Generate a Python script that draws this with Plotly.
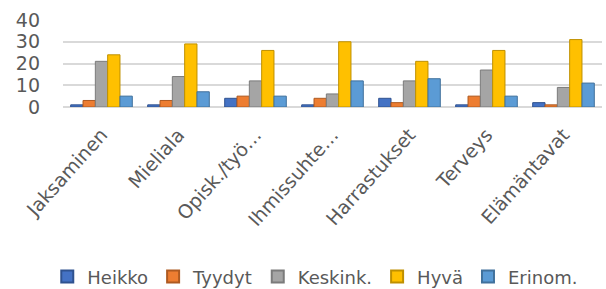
import plotly.graph_objects as go

categories = ["Jaksaminen", "Mieliala", "Opisk./työ…", "Ihmissuhte…", "Harrastukset", "Terveys", "Elämäntavat"]
series_names = ["Heikko", "Tyydyt", "Keskink.", "Hyvä", "Erinom."]
heikko = [1, 1, 4, 1, 4, 1, 2]
tyydyt = [3, 3, 5, 4, 2, 5, 1]
keskink = [21, 14, 12, 6, 12, 17, 9]
hyva = [24, 29, 26, 30, 21, 26, 31]
erinom = [5, 7, 5, 12, 13, 5, 11]
y_ticks = [0, 10, 20, 30, 40]

values = [heikko, tyydyt, keskink, hyva, erinom]
colors = ["#4472C4", "#ED7D31", "#A5A5A5", "#FFC000", "#5B9BD5"]
edge = ["#2F528F", "#AE5A21", "#7B7B7B", "#BF9000", "#41719C"]

fig = go.Figure()
for name, vals, c, e in zip(series_names, values, colors, edge):
    fig.add_trace(go.Bar(x=categories, y=vals, name=name,
                         marker=dict(color=c, line=dict(color=e, width=1))))

FONT = "DejaVu Sans, Verdana, sans-serif"
fig.update_layout(
    width=606, height=289,
    margin=dict(l=63, r=4, t=20, b=182, autoexpand=False),
    paper_bgcolor="white", plot_bgcolor="white",
    barmode="group", bargap=0.2, bargroupgap=0,
    font=dict(family=FONT, color="#595959"),
    showlegend=True,
    legend=dict(orientation="h", xref="container", yref="container",
                x=0.078, xanchor="left", y=0.042, yanchor="middle",
                font=dict(size=18, color="#595959", family=FONT), itemwidth=30,
                traceorder="normal", itemsizing="constant"),
    xaxis=dict(tickangle=-48, tickfont=dict(size=19, color="#595959", family=FONT),
               showgrid=False, showline=False, ticks="", automargin=False,
               ticklabelstandoff=12),
    yaxis=dict(range=[0, 40], tickvals=y_ticks, tickfont=dict(size=19, color="#595959", family=FONT),
               showgrid=True, gridcolor="#D9D9D9", gridwidth=1.5,
               zeroline=True, zerolinecolor="#D9D9D9", zerolinewidth=1.5,
               showline=False, ticks="", automargin=False, ticklabelstandoff=22),
)

fig.write_html("out.html", config={"displayModeBar": False},
               post_script="document.body.style.margin='0';")
